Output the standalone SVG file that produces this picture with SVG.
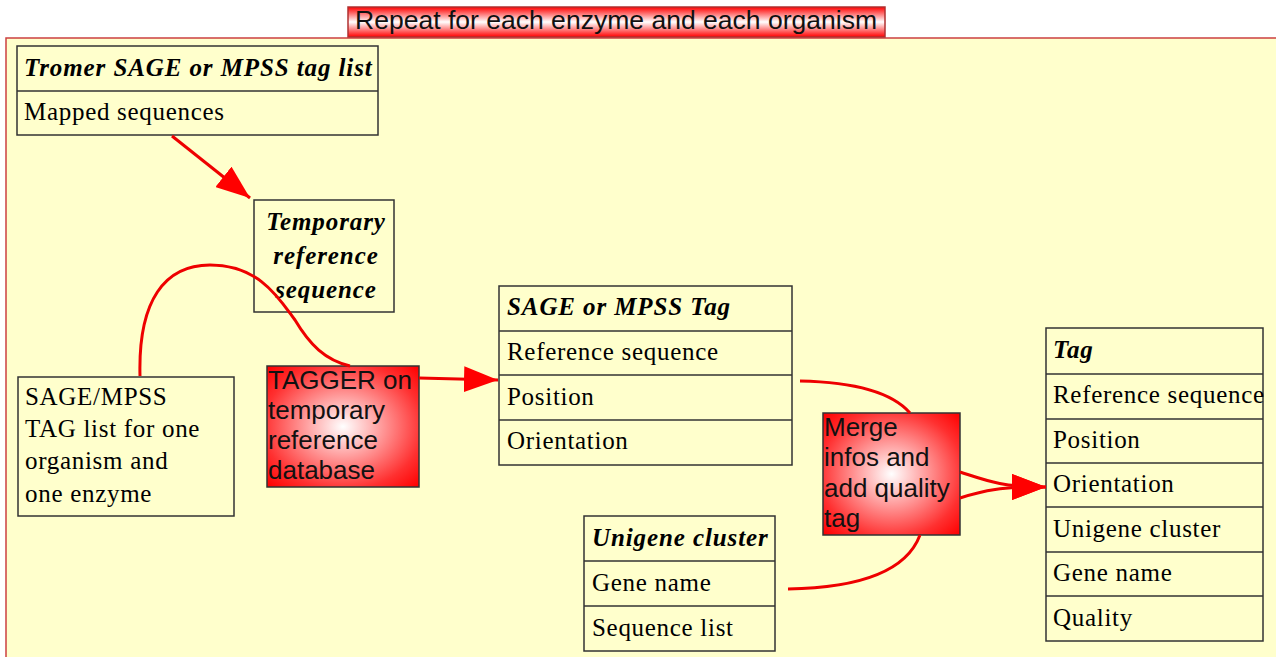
<svg xmlns="http://www.w3.org/2000/svg" width="1276" height="657" viewBox="0 0 1276 657">
<defs>
<radialGradient id="rg" cx="0.5" cy="0.5" r="0.7">
<stop offset="0" stop-color="#ffffff"/>
<stop offset="0.75" stop-color="#ff3030"/>
<stop offset="1" stop-color="#ff0000"/>
</radialGradient>
<linearGradient id="lg" x1="0" y1="0" x2="0" y2="1">
<stop offset="0" stop-color="#ff0000"/>
<stop offset="0.5" stop-color="#ffffff"/>
<stop offset="1" stop-color="#ff0000"/>
</linearGradient>
<marker id="ah" markerUnits="userSpaceOnUse" markerWidth="36" markerHeight="26" refX="34" refY="13" orient="auto">
<path d="M0,0 L34,13 L0,26 Z" fill="#ff0000"/>
</marker>
<style>
.box{fill:#ffffcc;stroke:#333;stroke-width:1.5}
.red{fill:url(#rg);stroke:#333;stroke-width:1.5}
.hdr{font-family:"Liberation Serif",serif;font-size:25px;font-weight:bold;font-style:italic;letter-spacing:0.9px;fill:#000}
.it{font-family:"Liberation Serif",serif;font-size:25px;letter-spacing:0.7px;fill:#000}
.sans{font-family:"Liberation Sans",Arial,sans-serif;font-size:26px;fill:#111}
.ln{fill:none;stroke:#ee0000;stroke-width:3}
</style>
</defs>
<rect width="1276" height="657" fill="#ffffff"/>
<g id="container">
<rect x="6" y="38" width="1280" height="630" fill="#ffffcc" stroke="#cc4040" stroke-width="1.5"/>
</g>
<g id="title">
<rect x="348" y="7" width="537" height="30" fill="url(#lg)" stroke="#b03030" stroke-width="1.5"/>
<text x="616" y="29" text-anchor="middle" class="sans" font-size="24" textLength="522" lengthAdjust="spacingAndGlyphs">Repeat for each enzyme and each organism</text>
</g>
<g id="tromer">
<rect class="box" x="17" y="46" width="361" height="89"/>
<line x1="17" y1="91" x2="378" y2="91" stroke="#333" stroke-width="1.5"/>
<text class="hdr" x="24" y="76">Tromer SAGE or MPSS tag list</text>
<text class="it" x="24" y="120">Mapped sequences</text>
</g>
<g id="tempref">
<rect class="box" x="254" y="200" width="140" height="112"/>
<text class="hdr" x="326" y="230" text-anchor="middle">Temporary</text>
<text class="hdr" x="326" y="264" text-anchor="middle">reference</text>
<text class="hdr" x="326" y="298" text-anchor="middle">sequence</text>
</g>
<g id="sagelist">
<rect class="box" x="18" y="377" width="216" height="139"/>
<text class="it" x="25" y="405">SAGE/MPSS</text>
<text class="it" x="25" y="437">TAG list for one</text>
<text class="it" x="25" y="469">organism and</text>
<text class="it" x="25" y="502">one enzyme</text>
</g>
<g id="tagger">
<rect class="red" x="267" y="366" width="152" height="121"/>
<text class="sans" x="268" y="389">TAGGER on</text>
<text class="sans" x="268" y="419">temporary</text>
<text class="sans" x="268" y="449">reference</text>
<text class="sans" x="268" y="479">database</text>
</g>
<g id="sagetag">
<rect class="box" x="499" y="286" width="293" height="179"/>
<line x1="499" y1="331" x2="792" y2="331" stroke="#333" stroke-width="1.5"/>
<line x1="499" y1="375" x2="792" y2="375" stroke="#333" stroke-width="1.5"/>
<line x1="499" y1="420" x2="792" y2="420" stroke="#333" stroke-width="1.5"/>
<text class="hdr" x="507" y="315">SAGE or MPSS Tag</text>
<text class="it" x="507" y="360">Reference sequence</text>
<text class="it" x="507" y="405">Position</text>
<text class="it" x="507" y="449">Orientation</text>
</g>
<g id="merge">
<rect class="red" x="823" y="413" width="137" height="122"/>
<text class="sans" x="824" y="436">Merge</text>
<text class="sans" x="824" y="466">infos and</text>
<text class="sans" x="824" y="497">add quality</text>
<text class="sans" x="824" y="527">tag</text>
</g>
<g id="unigene">
<rect class="box" x="584" y="516" width="191" height="135"/>
<line x1="584" y1="561" x2="775" y2="561" stroke="#333" stroke-width="1.5"/>
<line x1="584" y1="606" x2="775" y2="606" stroke="#333" stroke-width="1.5"/>
<text class="hdr" x="592" y="546">Unigene cluster</text>
<text class="it" x="592" y="591">Gene name</text>
<text class="it" x="592" y="636">Sequence list</text>
</g>
<g id="tag">
<rect class="box" x="1046" y="328" width="217" height="313"/>
<line x1="1046" y1="374" x2="1263" y2="374" stroke="#333" stroke-width="1.5"/>
<line x1="1046" y1="419" x2="1263" y2="419" stroke="#333" stroke-width="1.5"/>
<line x1="1046" y1="463" x2="1263" y2="463" stroke="#333" stroke-width="1.5"/>
<line x1="1046" y1="507" x2="1263" y2="507" stroke="#333" stroke-width="1.5"/>
<line x1="1046" y1="552" x2="1263" y2="552" stroke="#333" stroke-width="1.5"/>
<line x1="1046" y1="596" x2="1263" y2="596" stroke="#333" stroke-width="1.5"/>
<text class="hdr" x="1053" y="358">Tag</text>
<text class="it" x="1053" y="403">Reference sequence</text>
<text class="it" x="1053" y="448">Position</text>
<text class="it" x="1053" y="492">Orientation</text>
<text class="it" x="1053" y="537">Unigene cluster</text>
<text class="it" x="1053" y="581">Gene name</text>
<text class="it" x="1053" y="626">Quality</text>
</g>
<g id="connectors">
<path class="ln" d="M172,136 L250,198" marker-end="url(#ah)"/>
<path class="ln" d="M140,376 C138,300 165,265 210,265 C260,265 280,300 295,320 C310,345 325,360 350,366"/>
<path class="ln" d="M419,378 L498,380" marker-end="url(#ah)"/>
<path class="ln" d="M800,381 C850,382 890,390 910,413"/>
<path class="ln" d="M788,589 C850,588 905,575 920,535"/>
<path class="ln" d="M960,472 C985,480 1000,487 1046,487" marker-end="url(#ah)"/>
<path class="ln" d="M960,498 C985,490 1000,487 1046,487" marker-end="url(#ah)"/>
</g>
</svg>
